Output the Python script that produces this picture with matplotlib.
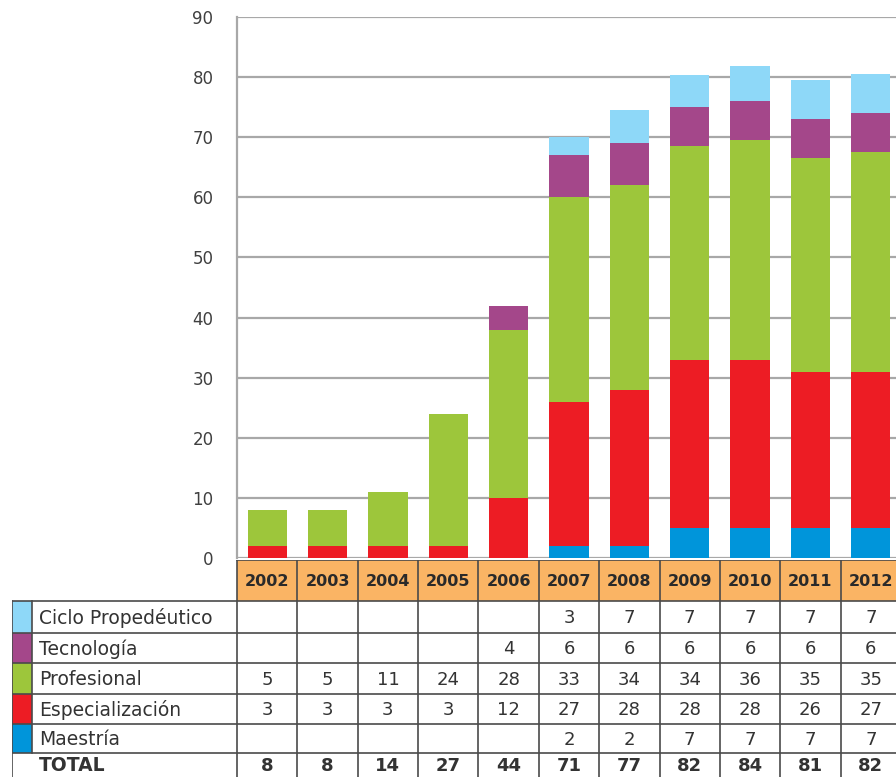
import matplotlib.pyplot as plt
from matplotlib.patches import Rectangle
import numpy as np

years = ['2002', '2003', '2004', '2005', '2006', '2007', '2008', '2009', '2010', '2011', '2012']
series = ['Ciclo Propedéutico', 'Tecnología', 'Profesional', 'Especialización', 'Maestría']
colors = ['#8ED8F8', '#A4478A', '#9DC63B', '#ED1C24', '#0095DA']

# bar heights as drawn in the chart (bottom to top)
maestria_bar = [0, 0, 0, 0, 0, 2, 2, 5, 5, 5, 5]
especial_bar = [2, 2, 2, 2, 10, 24, 26, 28, 28, 26, 26]
profes_bar = [6, 6, 9, 22, 28, 34, 34, 35.5, 36.5, 35.5, 36.5]
tecno_bar = [0, 0, 0, 0, 4, 7, 7, 6.6, 6.6, 6.5, 6.5]
ciclo_bar = [0, 0, 0, 0, 0, 3, 5.5, 5.2, 5.7, 6.5, 6.5]

# values printed in the table
ciclo_tab = [None, None, None, None, None, 3, 7, 7, 7, 7, 7]
tecno_tab = [None, None, None, None, 4, 6, 6, 6, 6, 6, 6]
profes_tab = [5, 5, 11, 24, 28, 33, 34, 34, 36, 35, 35]
especial_tab = [3, 3, 3, 3, 12, 27, 28, 28, 28, 26, 27]
maestria_tab = [None, None, None, None, None, 2, 2, 7, 7, 7, 7]
total_tab = [8, 8, 14, 27, 44, 71, 77, 82, 84, 81, 82]

W, H = 896, 777
fig = plt.figure(figsize=(W / 100, H / 100), dpi=100)

# bar chart
ax = fig.add_axes([237 / W, 1 - 558 / H, (901 - 237) / W, (558 - 17) / H])
x = np.arange(len(years))
bottom = np.zeros(len(years))
stack = [maestria_bar, especial_bar, profes_bar, tecno_bar, ciclo_bar]
stack_colors = colors[::-1]
for vals, c in zip(stack, stack_colors):
    ax.bar(x, vals, 0.65, bottom=bottom, color=c, zorder=3)
    bottom += np.array(vals)

ax.set_xlim(-0.5, len(years) - 0.5)
ax.set_ylim(0, 90)
ax.set_yticks(range(0, 91, 10))
ax.set_xticks([])
ax.yaxis.grid(True, color='#A8A8A8', lw=1.6, zorder=0)
for s in ['right', 'bottom', 'top']:
    ax.spines[s].set_visible(False)
ax.spines['left'].set_color('#A8A8A8')
ax.spines['left'].set_linewidth(1.6)
ax.tick_params(axis='y', length=0, pad=17, labelsize=12, labelcolor='#404040')

# table below
tab = fig.add_axes([12 / W, 1 - 784 / H, (901 - 12) / W, (784 - 560) / H])
left = -0.5 - 225 / 60.36
sw_right = left + 20 / 60.36
tab.set_xlim(left, len(years) - 0.5)
tab.set_ylim(784, 560)
tab.axis('off')

edge = '#4A4A4A'
head_top, head_bot = 560, 600.7
row_edges = [600.7, 633, 663.5, 694, 724, 753.5, 784]

for i, yr in enumerate(years):
    tab.add_patch(Rectangle((i - 0.5, head_top), 1, head_bot - head_top,
                            facecolor='#FAB464', edgecolor='none'))
    tab.text(i, (head_top + head_bot) / 2 + 1, yr, ha='center', va='center',
             fontsize=11.5, fontweight='bold', color='#2A2A2A')

# swatches
for r, c in enumerate(colors):
    tab.add_patch(Rectangle((left, row_edges[r]), sw_right - left,
                            row_edges[r + 1] - row_edges[r], facecolor=c, edgecolor='none'))

# grid lines
tab.plot([-0.5, len(years) - 0.5], [head_top, head_top], color=edge, lw=1.2)
for yv in row_edges[:-1]:
    tab.plot([left, len(years) - 0.5], [yv, yv], color=edge, lw=1.2)
for i in range(len(years) + 1):
    tab.plot([i - 0.5, i - 0.5], [head_top, 784], color=edge, lw=1.2)
tab.plot([left, left], [row_edges[0], 784], color=edge, lw=1.2)
tab.plot([sw_right, sw_right], [row_edges[0], row_edges[5]], color=edge, lw=1.2)

rows = [ciclo_tab, tecno_tab, profes_tab, especial_tab, maestria_tab, total_tab]
labels = series + ['TOTAL']
for r, (lab, vals) in enumerate(zip(labels, rows)):
    bold = lab == 'TOTAL'
    yc = (row_edges[r] + row_edges[r + 1]) / 2 + 1
    if bold:
        yc = 766
    tab.text(sw_right + 0.12, yc, lab, ha='left', va='center', fontsize=13.5,
             color='#333333', fontweight='bold' if bold else 'normal')
    for i, v in enumerate(vals):
        if v is not None:
            tab.text(i, yc, str(v), ha='center', va='center', fontsize=13,
                     color='#333333', fontweight='bold' if bold else 'normal')

fig.savefig('out.png', dpi=100)
